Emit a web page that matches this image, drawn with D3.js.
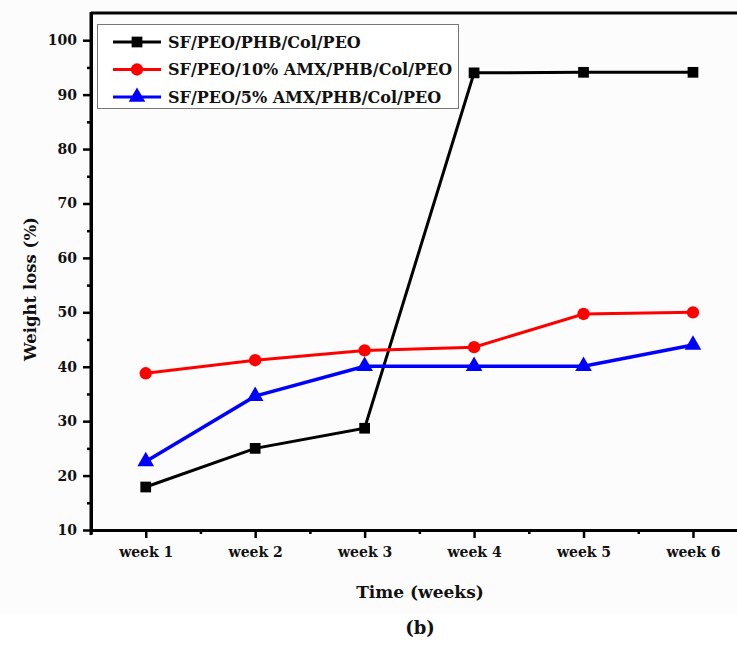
<!DOCTYPE html>
<html>
<head>
<meta charset="utf-8">
<script src="https://cdn.jsdelivr.net/npm/d3@7"></script>
<style>
  body { margin: 0; background: #fff; }
  text { font-family: "DejaVu Serif", "Liberation Serif", serif; font-weight: bold; fill: #111; }
</style>
</head>
<body>
<div id="holder"></div>
<script>
const w = 737;
const h = 649;

// DATA
const weeks = ["week 1", "week 2", "week 3", "week 4", "week 5", "week 6"];
const weekPos = [1, 2, 3, 4, 5, 6];
const seriesNames = ["SF/PEO/PHB/Col/PEO", "SF/PEO/10% AMX/PHB/Col/PEO", "SF/PEO/5% AMX/PHB/Col/PEO"];
const plain = [17.9, 25.0, 28.7, 94.0, 94.1, 94.1];
const amx10 = [38.8, 41.2, 43.0, 43.6, 49.7, 50.0];
const amx5 = [22.6, 34.6, 40.1, 40.1, 40.1, 44.0];
const yTicks = [10, 20, 30, 40, 50, 60, 70, 80, 90, 100];
const yMinor = [15, 25, 35, 45, 55, 65, 75, 85, 95];
const xMinor = [0.5, 1.5, 2.5, 3.5, 4.5, 5.5, 6.5];

const colors = ["#000000", "#ff0000", "#0000ff"];
const symbols = [d3.symbolSquare, d3.symbolCircle, d3.symbolTriangle];
const symSizes = [115, 120, 120];
const allSeries = [plain, amx10, amx5];

// CREATE SVG
const svg = d3.select("#holder")
    .append("svg")
    .attr("width", w)
    .attr("height", h);

// faint grey backdrop of the original figure
svg.append("rect").attr("width", w).attr("height", 614).attr("fill", "#fcfcfc");

// SCALES (plot runs past the right edge, like the cropped original)
const x = d3.scaleLinear().domain([0.5, 6.5]).range([91, 747.7]);
const y = d3.scaleLinear().domain([10, 105]).range([530, 13]);

// top frame line
svg.append("line")
    .attr("x1", x(0.5)).attr("x2", x(6.5))
    .attr("y1", y(105)).attr("y2", y(105))
    .attr("stroke", "#000").attr("stroke-width", 3);

// Y AXIS
const yAxis = svg.append("g")
    .attr("transform", `translate(${x(0.5)},0)`)
    .call(d3.axisLeft(y).tickValues(yTicks).tickSize(8).tickPadding(6).tickSizeOuter(0));
svg.append("g")
    .attr("transform", `translate(${x(0.5)},0)`)
    .call(d3.axisLeft(y).tickValues(yMinor).tickSize(4).tickFormat("").tickSizeOuter(0))
    .select(".domain").remove();

// X AXIS
const xAxis = svg.append("g")
    .attr("transform", `translate(0,${y(10)})`)
    .call(d3.axisBottom(x).tickValues(weekPos).tickFormat((d, i) => weeks[i])
        .tickSize(8).tickPadding(9).tickSizeOuter(0));
svg.append("g")
    .attr("transform", `translate(0,${y(10)})`)
    .call(d3.axisBottom(x).tickValues(xMinor).tickSize(4).tickFormat("").tickSizeOuter(0))
    .select(".domain").remove();

svg.selectAll(".domain").attr("stroke", "#000").attr("stroke-width", 3);
svg.selectAll(".tick line").attr("stroke", "#000").attr("stroke-width", 2.5);
svg.selectAll(".tick text").attr("font-family", null).attr("font-size", null);
yAxis.selectAll("text").style("font-size", "14px");
xAxis.selectAll("text").style("font-size", "14px");

// extend the left axis a little past the corner
svg.append("line")
    .attr("x1", x(0.5)).attr("x2", x(0.5))
    .attr("y1", y(105) - 1).attr("y2", y(10) + 5)
    .attr("stroke", "#000").attr("stroke-width", 3);

// LINES + MARKERS
const line = d3.line().x((d, i) => x(weekPos[i])).y(d => y(d));

allSeries.forEach((vals, s) => {
    svg.append("path")
        .datum(vals)
        .attr("d", line)
        .attr("fill", "none")
        .attr("stroke", colors[s])
        .attr("stroke-width", s === 2 ? 3.5 : 3);

    svg.append("g")
        .selectAll("path")
        .data(vals)
        .enter()
        .append("path")
        .attr("d", d3.symbol().type(symbols[s]).size(symSizes[s]))
        .attr("transform", (d, i) => `translate(${x(weekPos[i])},${y(d)})`)
        .attr("fill", colors[s]);
});

// LEGEND
const legend = svg.append("g");
legend.append("rect")
    .attr("x", 97.5).attr("y", 24.5)
    .attr("width", 361).attr("height", 84)
    .attr("fill", "#fff").attr("stroke", "#777").attr("stroke-width", 1);

seriesNames.forEach((name, s) => {
    const ly = 42 + s * 27.5;
    legend.append("line")
        .attr("x1", 113).attr("x2", 161)
        .attr("y1", ly).attr("y2", ly)
        .attr("stroke", colors[s]).attr("stroke-width", 3);
    legend.append("path")
        .attr("d", d3.symbol().type(symbols[s]).size(symSizes[s]))
        .attr("transform", `translate(137,${ly})`)
        .attr("fill", colors[s]);
    legend.append("text")
        .attr("x", 168).attr("y", ly)
        .attr("dy", "0.35em")
        .style("font-size", "16px")
        .text(name);
});

// AXIS TITLES
svg.append("text")
    .attr("transform", "translate(30,289) rotate(-90)")
    .attr("text-anchor", "middle")
    .attr("dy", "0.35em")
    .style("font-size", "16.5px")
    .text("Weight loss (%)");

svg.append("text")
    .attr("x", 420).attr("y", 592)
    .attr("text-anchor", "middle")
    .attr("dy", "0.35em")
    .style("font-size", "17px")
    .text("Time (weeks)");

svg.append("text")
    .attr("x", 420).attr("y", 628)
    .attr("text-anchor", "middle")
    .attr("dy", "0.35em")
    .style("font-size", "18px")
    .text("(b)");
</script>
</body>
</html>
